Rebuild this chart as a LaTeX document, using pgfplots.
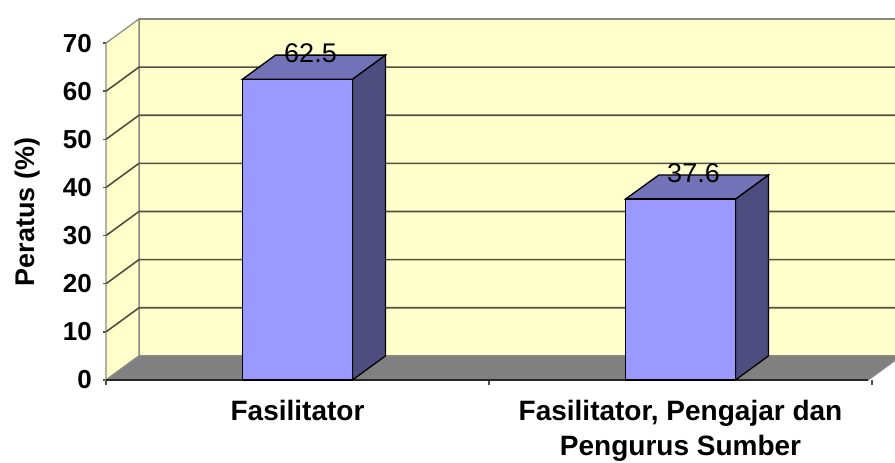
\documentclass[border=0pt]{standalone}
\usepackage{fontspec}
\setmainfont{Liberation Sans}
\usepackage{pgfplots}
\pgfplotsset{compat=1.18}
\definecolor{wallc}{HTML}{FFFFCC}
\definecolor{floorc}{HTML}{808080}
\definecolor{edgec}{HTML}{8A8A80}
\definecolor{gridc}{RGB}{80,80,64}
\definecolor{barfront}{HTML}{9999FF}
\definecolor{bartop}{HTML}{7272B8}
\definecolor{barside}{HTML}{4D4D80}
\begin{document}
\begin{tikzpicture}
\path[use as bounding box] (-106pt,-83pt) rectangle (789pt,380pt);
\begin{axis}[
  at={(0,0)}, anchor=south west,
  scale only axis, width=789pt, height=361pt,
  xmin=-0.5, xmax=1.56, ymin=0, ymax=75,
  clip=false,
  axis line style={draw=none},
  /pgf/number format/assume math mode=true,
  tick align=outside,
  tick pos=left,
  ytick={0,10,...,70},
  major tick length=3pt,
  ytick style={gridc, line width=1.5pt},
  yticklabel style={font=\bfseries\fontsize{26}{30}\selectfont, inner sep=0pt, anchor=east, xshift=-11pt},
  xtick={0,1},
  xticklabels={Fasilitator,{Fasilitator, Pengajar dan\\Pengurus Sumber}},
  major x tick style={draw=none},
  minor xtick={-0.5,0.5,1.5},
  minor tick length=5pt,
  minor x tick style={gridc, line width=1.5pt},
  xticklabel style={font=\bfseries\fontsize{28}{35}\selectfont, align=center, inner sep=0pt, anchor=north, yshift=-17pt},
  ylabel={Peratus (\%)},
  ylabel style={font=\bfseries\fontsize{27}{32}\selectfont, at={(axis description cs:-0.0995,0.4655)}, anchor=center, rotate=0},
]
% back wall
\addplot[fill=wallc, draw=edgec, line width=1.2pt] coordinates {(-0.414,5) (1.75,5) (1.75,75) (-0.414,75)} -- cycle;
% left wall
\addplot[fill=wallc, draw=edgec, line width=1.2pt] coordinates {(-0.5,0) (-0.5,70) (-0.414,75) (-0.414,5)} -- cycle;
% floor
\addplot[fill=floorc, draw=edgec, line width=1.2pt] coordinates {(-0.5,0) (1.49,0) (1.576,5) (-0.414,5)} -- cycle;
% gridlines
\addplot[gridc, line width=1.6pt] coordinates {(-0.5,10) (-0.414,15) (1.75,15)};
\addplot[gridc, line width=1.6pt] coordinates {(-0.5,20) (-0.414,25) (1.75,25)};
\addplot[gridc, line width=1.6pt] coordinates {(-0.5,30) (-0.414,35) (1.75,35)};
\addplot[gridc, line width=1.6pt] coordinates {(-0.5,40) (-0.414,45) (1.75,45)};
\addplot[gridc, line width=1.6pt] coordinates {(-0.5,50) (-0.414,55) (1.75,55)};
\addplot[gridc, line width=1.6pt] coordinates {(-0.5,60) (-0.414,65) (1.75,65)};
% floor front edge
\addplot[black!85, line width=2pt] coordinates {(-0.5,0) (1.49,0)};
% bar sides
\addplot[fill=barside, draw=black, line width=1.3pt] coordinates {(0.1435,0) (0.1435,62.5) (0.2295,67.5) (0.2295,5)} -- cycle;
\addplot[fill=barside, draw=black, line width=1.3pt] coordinates {(1.1435,0) (1.1435,37.6) (1.2295,42.6) (1.2295,5)} -- cycle;
% bar tops
\addplot[fill=bartop, draw=black, line width=1.3pt] coordinates {(-0.1435,62.5) (0.1435,62.5) (0.2295,67.5) (-0.0575,67.5)} -- cycle;
\addplot[fill=bartop, draw=black, line width=1.3pt] coordinates {(0.8565,37.6) (1.1435,37.6) (1.2295,42.6) (0.9435,42.6)} -- cycle;
% bar fronts with value labels
\addplot[ybar, bar width=0.287, fill=barfront, draw=black, line width=1.3pt,
  nodes near coords,
  every node near coord/.style={anchor=center, xshift=13pt, yshift=26pt, font=\fontsize{27}{30}\selectfont, text=black}]
  coordinates {(0,62.5) (1,37.6)};
\end{axis}
\end{tikzpicture}
\end{document}
